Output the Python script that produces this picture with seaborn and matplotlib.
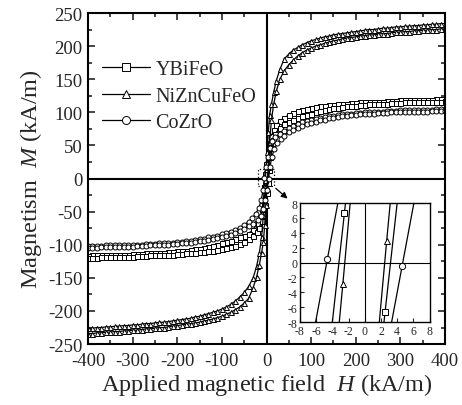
import matplotlib
matplotlib.use("Agg")
import matplotlib.pyplot as plt
import pandas as pd
import seaborn as sns

# ==========================================
# 1. Data
# ==========================================
# high-field sweep points, 400 -> 40 kA/m
FIELD_HIGH = [400, 390, 380, 370, 360, 350, 340, 330, 320, 310, 300, 290,
              280, 270, 260, 250, 240, 230, 220, 210, 200, 190, 180, 170,
              160, 150, 140, 130, 120, 110, 100, 90, 80, 70, 60, 50, 40]

# descending branch: M at +FIELD_HIGH, points near zero, M at -FIELD_HIGH
YBIFEO_POS = [120, 120, 120, 119, 119, 119, 119, 118, 118, 118, 118, 117,
              117, 117, 116, 116, 116, 115, 115, 115, 114, 114, 113, 113,
              112, 111, 111, 110, 109, 108, 107, 105, 104, 102, 99, 96, 92]
YBIFEO_NEAR_H = [30, 22, 16, 11, 7, 3.5, -1, -2.5, -4.5, -7, -10, -14, -20, -30]
YBIFEO_NEAR_M = [87, 81, 74, 64, 53, 40, 22, 6.7, -13, -32, -46, -58, -68, -77]
YBIFEO_NEG = [-83, -86, -88, -91, -94, -96, -98, -100, -102, -104, -105, -106,
              -107, -108, -109, -110, -110, -111, -111, -112, -112, -113, -113,
              -113, -114, -114, -114, -115, -115, -115, -115, -116, -116, -116,
              -116, -116, -117]

NIZN_POS = [234, 234, 233, 233, 232, 232, 231, 231, 230, 230, 229, 229,
            228, 227, 227, 226, 225, 225, 224, 223, 222, 221, 220, 219,
            218, 217, 215, 214, 212, 210, 208, 205, 202, 198, 194, 188, 181]
NIZN_NEAR_H = [30, 22, 16, 11, 7, 4, 1.5, -1.3, -2.7, -4, -7, -11, -16, -22, -30]
NIZN_NEAR_M = [165, 148, 130, 112, 96, 70, 40, 14, -2.9, -18, -55, -88, -112,
               -132, -150]
NIZN_NEG = [-163, -172, -179, -185, -190, -194, -197, -200, -202, -204, -206,
            -208, -209, -211, -212, -213, -214, -215, -216, -217, -217, -218,
            -219, -219, -220, -221, -221, -222, -222, -223, -223, -224, -224,
            -225, -225, -226, -226]

COZRO_POS = [105, 105, 105, 104, 104, 104, 104, 103, 103, 103, 103, 102,
             102, 102, 101, 101, 101, 100, 100, 99, 99, 98, 98, 97,
             96, 95, 94, 93, 92, 90, 89, 87, 85, 82, 79, 76, 72]
COZRO_NEAR_H = [30, 20, 13, 8, 4, -1.6, -4.6, -7.6, -12, -17, -24, -32]
COZRO_NEAR_M = [68, 63, 57, 46, 33, 18, 0.5, -17, -33, -44, -53, -60]
COZRO_NEG = [-65, -70, -74, -77, -80, -82, -84, -86, -88, -89, -91, -92,
             -93, -94, -95, -96, -96, -97, -97, -98, -98, -99, -99, -99,
             -100, -100, -100, -100, -101, -101, -101, -101, -101, -102,
             -102, -102, -102]

MATERIALS = ["YBiFeO", "NiZnCuFeO", "CoZrO"]
MARKERS = {"YBiFeO": "s", "NiZnCuFeO": "^", "CoZrO": "o"}

raw = {
    "YBiFeO": (YBIFEO_POS, YBIFEO_NEAR_H, YBIFEO_NEAR_M, YBIFEO_NEG),
    "NiZnCuFeO": (NIZN_POS, NIZN_NEAR_H, NIZN_NEAR_M, NIZN_NEG),
    "CoZrO": (COZRO_POS, COZRO_NEAR_H, COZRO_NEAR_M, COZRO_NEG),
}

rows = []
for name in MATERIALS:
    pos, near_h, near_m, neg = raw[name]
    h_desc = FIELD_HIGH + near_h + [-h for h in reversed(FIELD_HIGH)]
    m_desc = pos + near_m + neg
    # ascending branch: loop is point symmetric about the origin
    h_asc = [-h for h in h_desc]
    m_asc = [-m for m in m_desc]
    for i, (h, m) in enumerate(zip(h_desc, m_desc)):
        rows.append((name, "desc", i, h, m))
    for i, (h, m) in enumerate(zip(h_asc, m_asc)):
        rows.append((name, "asc", i, h, m))
df = pd.DataFrame(rows, columns=["material", "branch", "step", "H", "M"])

# ==========================================
# 2. Plot
# ==========================================
sns.set_theme(style="ticks")
plt.rcParams["font.family"] = ["Liberation Serif", "DejaVu Serif"]
plt.rcParams["mathtext.fontset"] = "custom"
plt.rcParams["mathtext.rm"] = "Liberation Serif"
plt.rcParams["mathtext.it"] = "Liberation Serif:italic"
plt.rcParams["axes.unicode_minus"] = False

fig = plt.figure(figsize=(4.62, 4.06), dpi=100)
ax = fig.add_axes([0.1905, 0.150, 0.7727, 0.8155])


def draw_loops(axis, ms, with_label):
    for name in MATERIALS:
        for branch in ["desc", "asc"]:
            part = df[(df["material"] == name) & (df["branch"] == branch)]
            sns.lineplot(
                data=part, x="H", y="M", sort=False, estimator=None,
                ax=axis, color="black", linewidth=0.9,
                marker=MARKERS[name], markersize=ms,
                markerfacecolor="white", markeredgecolor="black",
                markeredgewidth=0.7,
                label=name if (with_label and branch == "desc") else None,
                legend=False,
            )


ax.axhline(0, color="black", lw=1.5, zorder=1)
ax.axvline(0, color="black", lw=1.5, zorder=1)
draw_loops(ax, 3.6, True)

ax.set_xlim(-400, 400)
ax.set_ylim(-250, 250)
ax.set_xticks(range(-400, 401, 100))
ax.set_xticks(range(-350, 400, 100), minor=True)
ax.set_yticks(range(-250, 251, 50))
ax.set_yticks(range(-225, 250, 50), minor=True)
ax.tick_params(which="both", direction="in", top=True, right=True,
               width=1.2, labelsize=13.5)
ax.tick_params(axis="x", pad=6)
ax.tick_params(axis="y", pad=4)
ax.tick_params(which="major", length=5)
ax.tick_params(which="minor", length=3)
for s in ax.spines.values():
    s.set_linewidth(1.5)
    s.set_color("black")

ax.set_xlabel("Applied magnetic field  $H$ (kA/m)", fontsize=17.5, labelpad=1)
ax.set_ylabel("Magnetism  $M$ (kA/m)", fontsize=17.5, labelpad=3)

ax.legend(loc="upper left", bbox_to_anchor=(0.0, 0.90), frameon=False,
          fontsize=14.5, handlelength=2.4, handletextpad=0.25,
          labelspacing=0.36, borderaxespad=0.3, markerscale=1.6)

# zoom box around the origin and arrow to the inset
ax.add_patch(plt.Rectangle((-20, -12), 36, 27, fill=False, ls=":",
                           lw=0.9, color="black", zorder=5))
ax.annotate("", xy=(52, -33), xytext=(16, -12),
            arrowprops=dict(arrowstyle="-|>", color="black", lw=0.9,
                            mutation_scale=9))

# ------------------------------------------
# inset: coercive field region
# ------------------------------------------
axin = fig.add_axes([0.649, 0.2044, 0.281, 0.293])
axin.axhline(0, color="black", lw=0.8, zorder=1)
axin.axvline(0, color="black", lw=0.8, zorder=1)
draw_loops(axin, 4.5, False)
axin.set_xlim(-8, 8)
axin.set_ylim(-8, 8)
axin.set_xticks(range(-8, 9, 2))
axin.set_yticks(range(-8, 9, 2))
axin.set_xlabel("")
axin.set_ylabel("")
axin.tick_params(direction="in", length=3, width=0.8, labelsize=8.5, pad=2)
for s in axin.spines.values():
    s.set_linewidth(1.0)
    s.set_color("black")

plt.savefig("out.png", dpi=100)
